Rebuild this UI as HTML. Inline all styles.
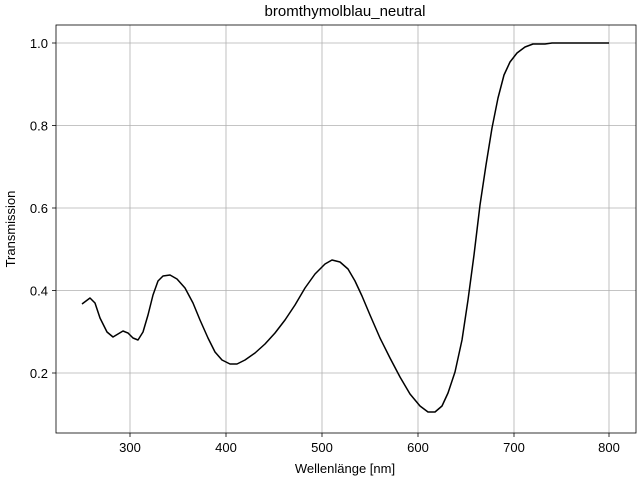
<!DOCTYPE html>
<html><head><meta charset="utf-8"><style>body{margin:0;background:#fff}svg{display:block}text{font-family:"Liberation Sans","DejaVu Sans",sans-serif;font-size:13px;fill:#000}</style></head><body>
<svg width="640" height="480" xmlns="http://www.w3.org/2000/svg">
<rect width="640" height="480" fill="#fff"/>
<g stroke="#b0b0b0" stroke-width="0.8">
<line x1="130" y1="25" x2="130" y2="433"/><line x1="226" y1="25" x2="226" y2="433"/><line x1="322" y1="25" x2="322" y2="433"/><line x1="418" y1="25" x2="418" y2="433"/><line x1="514" y1="25" x2="514" y2="433"/><line x1="609" y1="25" x2="609" y2="433"/>
<line x1="56" y1="373" x2="636" y2="373"/><line x1="56" y1="290.5" x2="636" y2="290.5"/><line x1="56" y1="208" x2="636" y2="208"/><line x1="56" y1="125.5" x2="636" y2="125.5"/><line x1="56" y1="43" x2="636" y2="43"/>
</g>
<path fill="none" stroke="#000" stroke-width="1.5" stroke-linejoin="round" d="M82,304 L90,298 L95,303 L100,318 L107,332 L113,337 L118,334 L123,331 L128,333 L133,338 L138,340 L143,332 L148,315 L153,295 L158,281 L163,276 L170,275 L177,279 L185,288 L193,303 L200,320 L208,338 L215,352 L222,360 L230,364 L237,364 L245,360 L255,353 L265,344 L275,333 L285,320 L295,305 L305,288 L315,274 L325,264 L332,260 L340,262 L348,269 L355,281 L362,296 L370,315 L380,338 L390,358 L400,377 L410,394 L420,406 L428,412 L435,412 L442,406 L448,393 L455,372 L462,340 L468,300 L474,255 L480,205 L486,165 L492,128 L498,98 L504,75 L510,62 L517,53 L525,47 L533,44 L545,44 L552,43 L609,43"/>
<rect x="56" y="25" width="580" height="408" fill="none" stroke="#000" stroke-width="0.8"/>
<g stroke="#000" stroke-width="0.8">
<line x1="130" y1="433" x2="130" y2="437"/><line x1="226" y1="433" x2="226" y2="437"/><line x1="322" y1="433" x2="322" y2="437"/><line x1="418" y1="433" x2="418" y2="437"/><line x1="514" y1="433" x2="514" y2="437"/><line x1="609" y1="433" x2="609" y2="437"/>
<line x1="52" y1="373" x2="56" y2="373"/><line x1="52" y1="290.5" x2="56" y2="290.5"/><line x1="52" y1="208" x2="56" y2="208"/><line x1="52" y1="125.5" x2="56" y2="125.5"/><line x1="52" y1="43" x2="56" y2="43"/>
</g>
<g text-anchor="middle">
<text x="130" y="452">300</text><text x="226" y="452">400</text><text x="322" y="452">500</text><text x="418" y="452">600</text><text x="514" y="452">700</text><text x="609" y="452">800</text>
<text x="345" y="473">Wellenlänge [nm]</text>
<text x="345" y="16" style="font-size:15px">bromthymolblau_neutral</text>
</g>
<g text-anchor="end">
<text x="48" y="378">0.2</text><text x="48" y="295.5">0.4</text><text x="48" y="213">0.6</text><text x="48" y="130.5">0.8</text><text x="48" y="48">1.0</text>
</g>
<text transform="translate(15,229) rotate(-90)" text-anchor="middle">Transmission</text>
</svg>
</body></html>
